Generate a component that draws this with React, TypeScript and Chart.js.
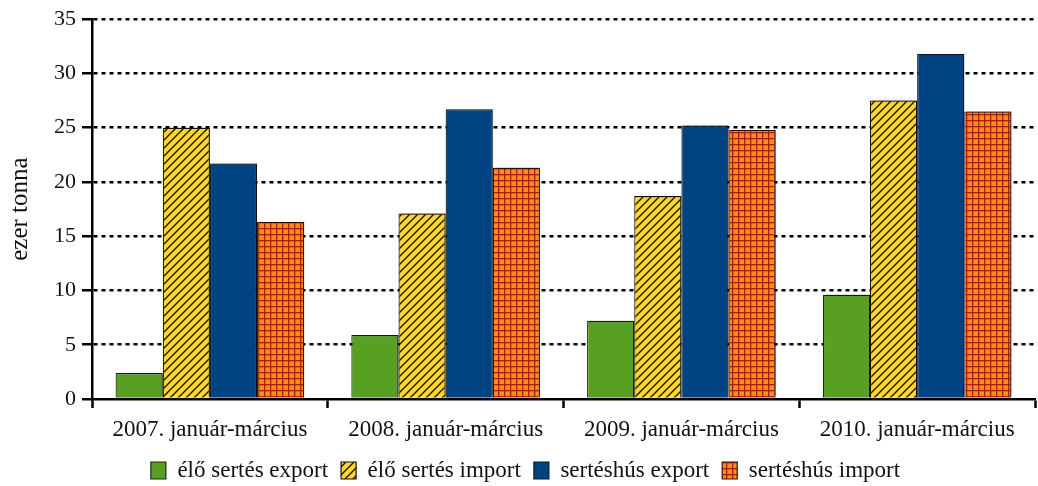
import React, { useEffect, useRef } from "react";
import { Chart, registerables } from "chart.js";

Chart.register(...registerables);

const categories = [
  "2007. január-március",
  "2008. január-március",
  "2009. január-március",
  "2010. január-március",
];
const seriesNames = ["élő sertés export", "élő sertés import", "sertéshús export", "sertéshús import"];
const eloExport = [2.4, 5.9, 7.2, 9.6];
const eloImport = [25.0, 17.1, 18.7, 27.5];
const husExport = [21.7, 26.7, 25.2, 31.8];
const husImport = [16.3, 21.3, 24.8, 26.5];
const yTicks = [0, 5, 10, 15, 20, 25, 30, 35];

function hatchPattern(): CanvasPattern | string {
  const c = document.createElement("canvas");
  c.width = 8;
  c.height = 8;
  const g = c.getContext("2d");
  if (!g) return "#FDD52B";
  g.fillStyle = "#FDD52B";
  g.fillRect(0, 0, 8, 8);
  g.strokeStyle = "#111";
  g.lineWidth = 1.3;
  g.beginPath();
  g.moveTo(-1, 9);
  g.lineTo(9, -1);
  g.moveTo(-1, 1);
  g.lineTo(1, -1);
  g.moveTo(7, 9);
  g.lineTo(9, 7);
  g.stroke();
  return g.createPattern(c, "repeat") || "#FDD52B";
}

function gridPattern(): CanvasPattern | string {
  const c = document.createElement("canvas");
  c.width = 6;
  c.height = 6;
  const g = c.getContext("2d");
  if (!g) return "#FF8C1A";
  g.fillStyle = "#FF8C1A";
  g.fillRect(0, 0, 6, 6);
  g.fillStyle = "#A82000";
  g.fillRect(0, 0, 6, 1.3);
  g.fillRect(0, 0, 1.3, 6);
  return g.createPattern(c, "repeat") || "#FF8C1A";
}

const shadowPlugin = {
  id: "barShadow",
  beforeDatasetsDraw(chart: any) {
    const ctx = chart.ctx;
    ctx.save();
    ctx.shadowColor = "rgba(0,0,0,0.35)";
    ctx.shadowOffsetX = 2;
    ctx.shadowOffsetY = -2;
    ctx.shadowBlur = 1;
  },
  afterDatasetsDraw(chart: any) {
    chart.ctx.restore();
  },
};

const layoutTweakPlugin = {
  id: "layoutTweak",
  afterLayout(chart: any) {
    const lg = chart.legend;
    if (lg) {
      const dy = 6;
      const dx = 8;
      lg.top += dy;
      lg.bottom += dy;
      lg.left += dx;
      lg.right += dx;
      if (lg.legendHitBoxes)
        lg.legendHitBoxes.forEach((h: any) => {
          h.top += dy;
          h.left += dx;
        });
    }
    const xs = chart.scales.x;
    if (xs) xs.bottom += 14;
  },
};

export default function App() {
  const ref = useRef<HTMLCanvasElement | null>(null);
  useEffect(() => {
    if (!ref.current) return;
    const font = "'Liberation Serif', 'DejaVu Serif', serif";
    const chart = new Chart(ref.current, {
      type: "bar",
      data: {
        labels: categories,
        datasets: [
          { label: seriesNames[0], data: eloExport, backgroundColor: "#58A022", borderColor: "#1a2a10", borderWidth: 1.2 },
          { label: seriesNames[1], data: eloImport, backgroundColor: hatchPattern() as any, borderColor: "#111", borderWidth: 1.2 },
          { label: seriesNames[2], data: husExport, backgroundColor: "#004383", borderColor: "#0a1a2a", borderWidth: 1.2 },
          { label: seriesNames[3], data: husImport, backgroundColor: gridPattern() as any, borderColor: "#3a1000", borderWidth: 1.2 },
        ],
      },
      options: {
        animation: false,
        responsive: false,
        maintainAspectRatio: false,
        layout: { padding: { left: 0, right: 3, top: 4, bottom: 0 } },
        datasets: { bar: { barPercentage: 1, categoryPercentage: 0.8 } },
        plugins: {
          legend: {
            position: "bottom",
            labels: {
              font: { family: font, size: 23, lineHeight: 1 },
              color: "#111",
              boxWidth: 15,
              boxHeight: 17,
              padding: 13,
            },
          },
          tooltip: { enabled: false },
        },
        scales: {
          x: {
            afterFit(scale: any) {
              scale.height = 41;
            },
            grid: {
              offset: true,
              drawOnChartArea: false,
              drawTicks: true,
              tickLength: 9,
              tickColor: "#000",
              tickWidth: 2.5,
            },
            border: { display: true, color: "#000", width: 2.5 },
            ticks: { font: { family: font, size: 23 }, color: "#111", padding: 8, maxRotation: 0 },
          },
          y: {
            min: 0,
            max: 35,
            afterFit(scale: any) {
              scale.width = 92;
            },
            afterBuildTicks(scale: any) {
              scale.ticks = yTicks.map((v) => ({ value: v }));
            },
            grid: {
              color: (c: any) => (c.tick && c.tick.value === 0 ? "rgba(0,0,0,0)" : "#000"),
              lineWidth: 2.5,
              drawTicks: true,
              tickLength: 10,
              tickColor: "#000",
              tickWidth: 2.5,
              tickBorderDash: [],
            },
            border: { display: true, color: "#000", width: 2.5, dash: [4, 4] },
            ticks: { font: { family: font, size: 22 }, color: "#111", padding: 6 },
            title: {
              display: true,
              text: "ezer tonna",
              font: { family: font, size: 25 },
              color: "#111",
              padding: { top: 5, bottom: 6 },
            },
          },
        },
      },
      plugins: [shadowPlugin, layoutTweakPlugin],
    });
    return () => chart.destroy();
  }, []);
  return (
    <div style={{ position: "fixed", left: 0, top: 0, width: 1038, height: 486, background: "#fff" }}>
      <canvas ref={ref} width={1038} height={486} style={{ display: "block" }} />
    </div>
  );
}
